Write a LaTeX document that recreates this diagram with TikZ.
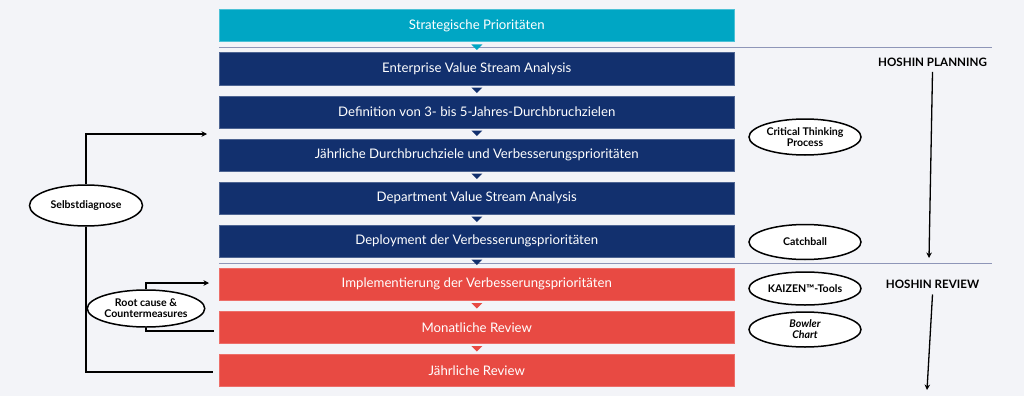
\documentclass[tikz,border=0pt]{standalone}
\usepackage{fontspec}
\setmainfont{Lato}
\usetikzlibrary{arrows.meta,shapes.geometric,calc}
\definecolor{bg}{HTML}{F3F4F8}
\definecolor{cyanbox}{HTML}{00A6C4}
\definecolor{navybox}{HTML}{12306E}
\definecolor{redbox}{HTML}{E84A43}
\definecolor{sepline}{HTML}{8E96B8}
\tikzset{
  stagebox/.style={anchor=north west, minimum width=515pt, minimum height=32pt, inner sep=0pt,
    text=white, font=\fontsize{13.2}{15}\selectfont, line width=0.5pt},
  cyanstage/.style={stagebox, fill=cyanbox, draw=cyanbox!70!white},
  navystage/.style={stagebox, fill=navybox, draw=navybox!75!white},
  redstage/.style={stagebox, fill=redbox, draw=redbox!80!white},
  tool/.style={ellipse, draw=black, fill=white, line width=1.5pt, minimum width=112pt, minimum height=35pt,
    inner sep=0pt, align=center, font=\fontsize{10.6}{10.8}\selectfont\bfseries},
  phase/.style={font=\fontsize{11.6}{13}\selectfont\bfseries, inner sep=1pt},
  conn/.style={draw=black, line width=1.3pt},
  sep/.style={draw=sepline, line width=0.8pt},
  tip/.style={-{Stealth[length=5.5pt,width=5.5pt]}}
}
\newcommand{\downtri}[2]{\fill[#2] ($(#1.south)+(-5.5,2.5)$) -- ++(11,0) -- ++(-5.5,5.5) -- cycle;}
\begin{document}
\begin{tikzpicture}[x=1pt,y=-1pt]
\useasboundingbox (0,0) rectangle (1024,396);
\fill[bg] (0,0) rectangle (1024,396);

% separator lines
\coordinate (s1a) at (219,47.5);
\coordinate (s1b) at (992,47.5);
\coordinate (s2a) at (219,263.3);
\coordinate (s2b) at (992,263.3);
\draw[sep] (s1a) -- (s1b);
\draw[sep] (s2a) -- (s2b);

% stage boxes
\node[cyanstage] (b1) at (219,9.5) {Strategische Prioritäten};
\node[navystage] (b2) at (219,52.5) {Enterprise Value Stream Analysis};
\node[navystage] (b3) at (219,95.5) {Definition von 3- bis 5-Jahres-Durchbruchzielen};
\node[navystage] (b4) at (219,138.5) {Jährliche Durchbruchziele und Verbesserungsprioritäten};
\node[navystage] (b5) at (219,181.5) {Department Value Stream Analysis};
\node[navystage] (b6) at (219,224.5) {Deployment der Verbesserungsprioritäten};
\node[redstage] (b7) at (219,268) {Implementierung der Verbesserungsprioritäten};
\node[redstage] (b8) at (219,311) {Monatliche Review};
\node[redstage] (b9) at (219,354) {Jährliche Review};

% triangles between boxes
\downtri{b1}{cyanbox}
\downtri{b2}{navybox}
\downtri{b3}{navybox}
\downtri{b4}{navybox}
\downtri{b5}{navybox}
\downtri{b6}{navybox}
\downtri{b7}{redbox}
\downtri{b8}{redbox}

% tool ellipses
\node[tool, minimum height=36pt] (ct) at (805,137) {Critical Thinking\\Process};
\node[tool] (cb) at (805,242) {Catchball};
\node[tool, minimum height=33pt] (kz) at (805,288.5) {KAIZEN™-Tools};
\node[tool] (bw) at (805,329.5) {\itshape Bowler\\\itshape Chart};

% phases
\node[phase] (hp) at (932.5,62.5) {HOSHIN PLANNING};
\node[phase] (hr) at (932.5,284) {HOSHIN REVIEW};
\coordinate (hpend) at (929,258);
\coordinate (hrend) at (927,390);
\draw[conn, tip] ($(hp.south)+(0,4)$) -- (hpend);
\draw[conn, tip] ($(hr.south)+(0,5)$) -- (hrend);

% left loops
\node[tool, minimum width=113pt, minimum height=41pt] (sd) at (86,205.5) {Selbstdiagnose};
\node[tool, minimum height=37pt] (rc) at (146,308.5) {Root cause \&\\Countermeasures};
\coordinate (sdtop) at (207,134);
\coordinate (sdbot) at (213,372);
\coordinate (rctop) at (209,283);
\coordinate (rcbot) at (214,331);
\draw[conn, tip] (sd.north) |- (sdtop);
\draw[conn] (sd.south) |- (sdbot);
\draw[conn, tip] (rc.north) |- (rctop);
\draw[conn] (rc.south) |- (rcbot);
\end{tikzpicture}
\end{document}
